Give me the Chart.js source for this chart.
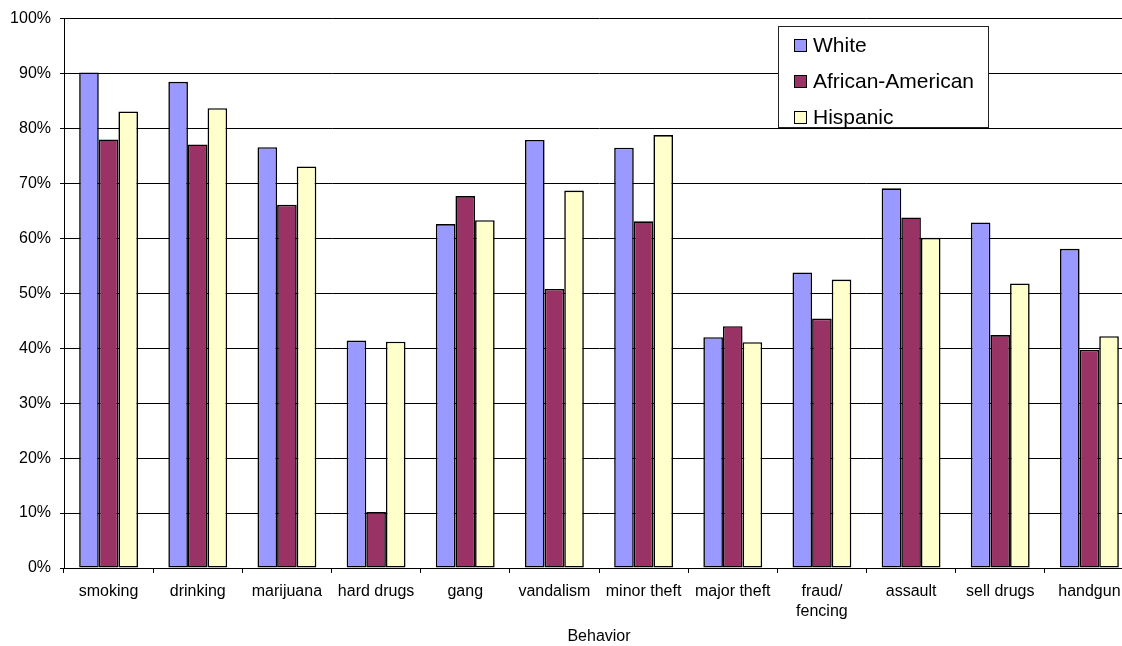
<!DOCTYPE html>
<html>
<head>
<meta charset="utf-8">
<script src="https://cdn.jsdelivr.net/npm/chart.js@4/dist/chart.umd.min.js"></script>
<style>
  html, body { margin: 0; padding: 0; background: #fff; overflow: hidden; }
  #wrap { width: 1135px; height: 646px; }
</style>
</head>
<body>
<div id="wrap"><canvas id="behaviorChart" width="1135" height="646"></canvas></div>
<script>
// Share of youth reporting each behavior, by group
const behaviors = ['smoking', 'drinking', 'marijuana', 'hard drugs', 'gang', 'vandalism',
    'minor theft', 'major theft', ['fraud/', 'fencing'], 'assault', 'sell drugs', 'handgun'];
const groupNames = ['White', 'African-American', 'Hispanic'];
const white = [90.2, 88.5, 76.6, 41.4, 62.6, 77.9, 76.5, 42.0, 53.8, 69.1, 62.9, 58.1];
const africanAmerican = [78.0, 77.1, 66.1, 10.2, 67.7, 50.8, 63.1, 44.0, 45.4, 63.8, 42.4, 39.7];
const hispanic = [83.1, 83.7, 73.1, 41.2, 63.3, 68.7, 78.8, 41.1, 52.5, 60.1, 51.8, 42.2];
const yTicks = [0, 10, 20, 30, 40, 50, 60, 70, 80, 90, 100];

const colors = ['#9999FF', '#993366', '#FFFFCC'];
const font = 'Liberation Sans, Arial, sans-serif';

// Legend drawn as a boxed panel inside the plot, like the original
const boxLegend = {
    id: 'boxLegend',
    afterDraw(chart) {
        const ctx = chart.ctx;
        const x = 778, y = 26, w = 210, h = 101;
        ctx.save();
        ctx.fillStyle = '#fff';
        ctx.fillRect(x, y, w, h);
        ctx.strokeStyle = '#222';
        ctx.lineWidth = 1;
        ctx.strokeRect(x + 0.5, y + 0.5, w, h);
        ctx.font = '21px ' + font;
        ctx.textBaseline = 'middle';
        chart.data.datasets.forEach(function (ds, i) {
            const cy = 45 + i * 36;
            ctx.fillStyle = ds.backgroundColor;
            ctx.fillRect(794, cy - 6, 12, 12);
            ctx.strokeStyle = '#000';
            ctx.strokeRect(794.5, cy - 5.5, 12, 12);
            ctx.fillStyle = '#000';
            ctx.fillText(ds.label, 813, cy + 1);
        });
        ctx.restore();
    }
};

const ctx = document.getElementById('behaviorChart').getContext('2d');
new Chart(ctx, {
    type: 'bar',
    data: {
        labels: behaviors,
        datasets: [white, africanAmerican, hispanic].map(function (vals, i) {
            return {
                label: groupNames[i],
                data: vals,
                backgroundColor: colors[i],
                borderColor: '#000',
                borderWidth: 1.6,
                borderSkipped: false,
                barPercentage: 1,
                categoryPercentage: 0.66
            };
        })
    },
    options: {
        responsive: false,
        animation: false,
        layout: { padding: { top: 17, right: 1, bottom: 0, left: 0 } },
        plugins: {
            legend: { display: false },
            tooltip: { enabled: false }
        },
        scales: {
            x: {
                grid: {
                    display: true,
                    drawOnChartArea: false,
                    offset: true,
                    color: '#000',
                    tickLength: 5
                },
                border: { display: true, color: '#000' },
                ticks: {
                    color: '#000',
                    font: { family: font, size: 16, lineHeight: 1.25 },
                    padding: 9,
                    maxRotation: 0,
                    autoSkip: false
                },
                title: {
                    display: true,
                    text: 'Behavior',
                    color: '#000',
                    font: { family: font, size: 16 },
                    padding: { top: 0, bottom: 0 }
                },
                afterFit: function (scale) { scale.height = 78; }
            },
            y: {
                min: 0,
                max: 100,
                afterBuildTicks: function (scale) {
                    scale.ticks = yTicks.map(function (v) { return { value: v }; });
                },
                grid: { color: '#000', tickLength: 4 },
                border: { display: true, color: '#000' },
                ticks: {
                    color: '#000',
                    font: { family: font, size: 16 },
                    padding: 9,
                    callback: function (v) { return v + '%'; }
                },
                afterFit: function (scale) { scale.width = 64; }
            }
        }
    },
    plugins: [boxLegend]
});
</script>
</body>
</html>
